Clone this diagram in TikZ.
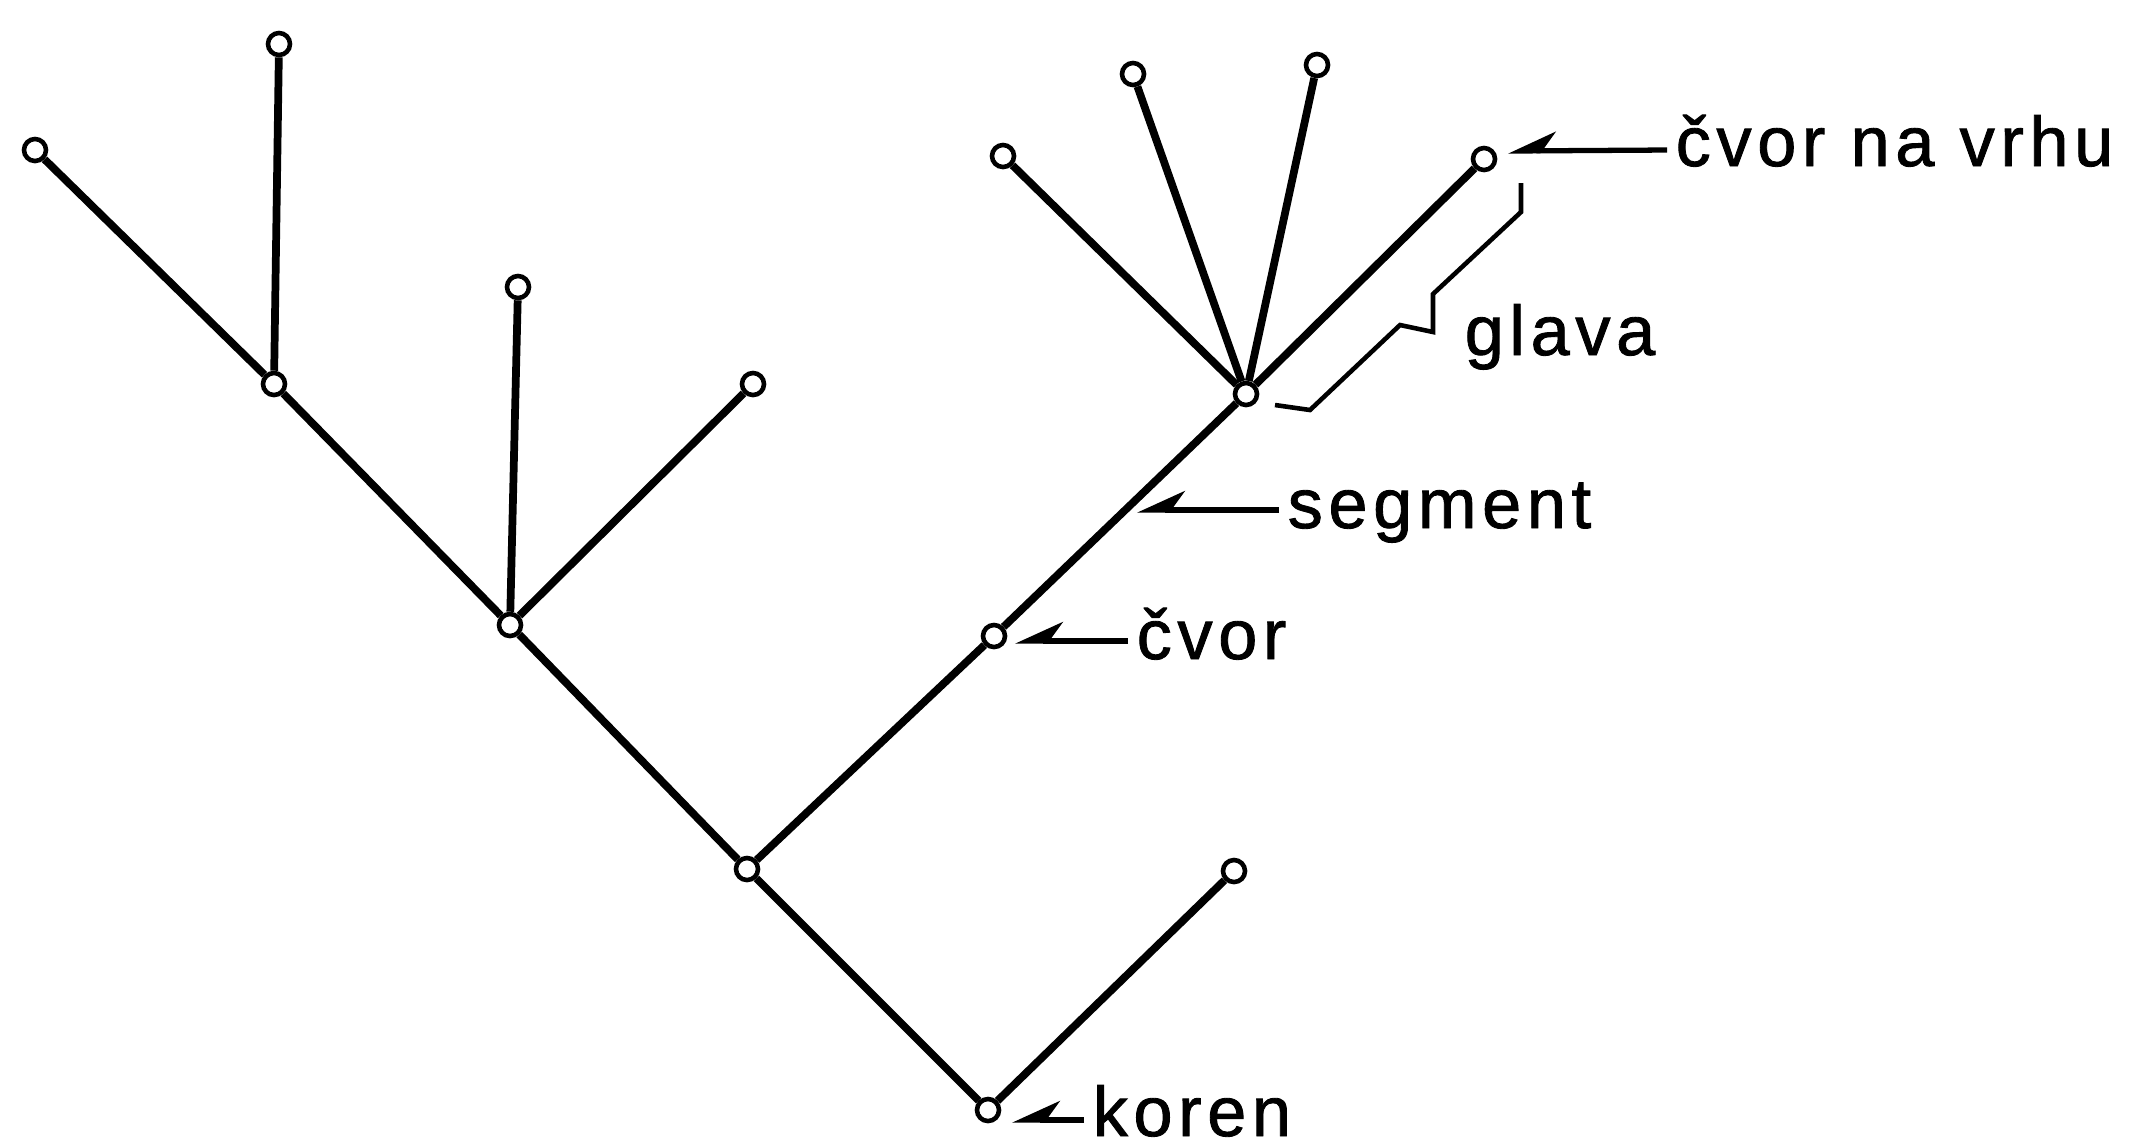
\documentclass[tikz,border=0pt]{standalone}
\usepackage{fontspec}
\setmainfont{Liberation Sans}
\newfontfamily\lblfont[LetterSpace=8, FakeBold=1.2]{Liberation Sans}
\usetikzlibrary{arrows.meta}
\begin{document}
\begin{tikzpicture}[x=0.01cm, y=-0.01cm,
        knot/.style={circle, draw, line width=1.3pt, fill=white, minimum size=0.22cm, inner sep=0pt},
        limb/.style={line width=2.2pt},
        lbl/.style={anchor=base west, inner sep=0pt, font=\lblfont\fontsize{20}{24}\selectfont},
        pointer/.style={line width=1.5pt, -{Stealth[harpoon, swap, length=0.42cm, width=0.38cm]}}]
    \useasboundingbox (0, 0) rectangle (2134, 1147);
    % nodes of the tree
    \node[knot] (r) at (988, 1110) {};
    \node[knot] (c) at (747, 869) {};
    \node[knot] (l5) at (1234, 871) {};
    \node[knot] (b) at (510, 625) {};
    \node[knot] (d) at (994, 636) {};
    \node[knot] (a) at (274, 384) {};
    \node[knot] (l3) at (518, 287) {};
    \node[knot] (l4) at (753, 384) {};
    \node[knot] (l1) at (35, 150) {};
    \node[knot] (l2) at (279, 44) {};
    \node[knot] (e) at (1246, 394) {};
    \node[knot] (l6) at (1003, 156) {};
    \node[knot] (l7) at (1133, 74) {};
    \node[knot] (l8) at (1317, 65) {};
    \node[knot] (t) at (1484, 159) {};
    % segments
    \draw[limb] (r) -- (c);
    \draw[limb] (r) -- (l5);
    \draw[limb] (c) -- (b);
    \draw[limb] (c) -- (d);
    \draw[limb] (b) -- (a);
    \draw[limb] (b) -- (l3);
    \draw[limb] (b) -- (l4);
    \draw[limb] (a) -- (l1);
    \draw[limb] (a) -- (l2);
    \draw[limb] (d) -- (e);
    \draw[limb] (e) -- (l6);
    \draw[limb] (e) -- (l7);
    \draw[limb] (e) -- (l8);
    \draw[limb] (e) -- (t);
    % labels
    \node[lbl] (ltip) at (1675, 166) {čvor na vrhu};
    \node[lbl] (lhead) at (1464, 355) {glava};
    \node[lbl] (lseg) at (1287, 528) {segment};
    \node[lbl] (lknot) at (1136, 659) {čvor};
    \node[lbl] (lroot) at (1092, 1136) {koren};
    \coordinate (ptip) at (1508, 151);
    \coordinate (pseg) at (1137, 510);
    \coordinate (pknot) at (1015, 641);
    \coordinate (proot) at (1012, 1120);
    \draw[pointer] ([shift={(-8, -16)}]ltip.base west) -- (ptip);
    \draw[pointer] ([shift={(-8, -18)}]lseg.base west) -- (pseg);
    \draw[pointer] ([shift={(-8, -18)}]lknot.base west) -- (pknot);
    \draw[pointer] ([shift={(-8, -16)}]lroot.base west) -- (proot);
    % bracket of the head
    \draw[line width=1.3pt] (1521, 183) -- (1521, 212) -- (1433, 294) -- (1433, 332)
        -- (1400, 325) -- (1310, 410) -- (1275, 405);
\end{tikzpicture}
\end{document}
